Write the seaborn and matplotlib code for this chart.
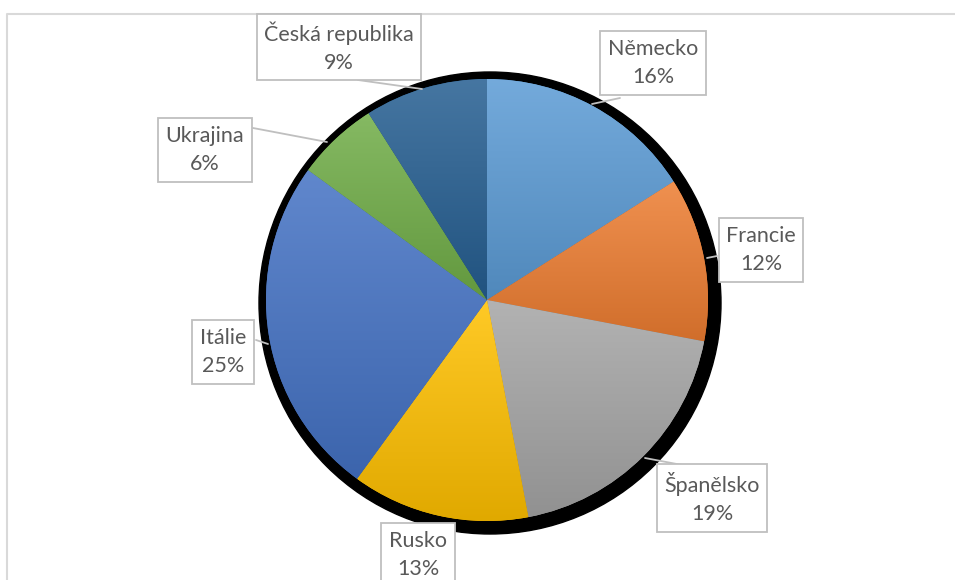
# -*- coding: utf-8 -*-
"""
Pie chart: share by country, Excel-like gradient slices, shadow and callout labels.
"""

import numpy as np
import seaborn as sns
import matplotlib.pyplot as plt
from matplotlib.colors import to_rgb
from matplotlib.patches import Circle

countries = ["Německo", "Francie", "Španělsko", "Rusko", "Itálie", "Ukrajina", "Česká republika"]
shares = [16, 12, 19, 13, 25, 6, 9]
base_colors = ["#5B9BD5", "#ED7D31", "#A5A5A5", "#FFC000", "#4472C4", "#70AD47", "#255E91"]

# label box centres (pixel coords, y from top) and leader line end points
label_pos = [(653, 63), (761, 250), (712, 498), (418, 555), (223, 352), (205, 150), (339, 47)]
leaders = [
    [(620, 98), (592, 104)],
    [(717, 256), (707, 258)],
    [(682, 465), (645, 458)],
    None,
    [(256, 340), (268, 344)],
    [(253, 128), (327, 142)],
    [(358, 80), (422, 89)],
]

W, H = 955, 580
CX, CY, R = 487, 300, 221


def shade(color, f):
    c = np.array(to_rgb(color))
    if f >= 0:
        return c + (1 - c) * f
    return c * (1 + f)


sns.set_theme(style="white")
plt.rcParams["font.family"] = ["Lato", "DejaVu Sans"]

fig = plt.figure(figsize=(W / 100, H / 100), dpi=100)
ax = fig.add_axes([0, 0, 1, 1])

# chart area border (top and left visible)
ax.plot([6.5, 6.5, W], [0, H - 13.5, H - 13.5], color="#d9d9d9", lw=1.5, zorder=1)

# shadow
ax.add_patch(Circle((CX + 3, H - CY - 3), R + 10, color="black", zorder=2))

wedges, _ = ax.pie(shares, colors=base_colors, startangle=90, counterclock=False,
                   center=(CX, H - CY), radius=R, frame=True,
                   wedgeprops=dict(linewidth=0))
ax.set_xlim(0, W)
ax.set_ylim(0, H)
ax.axis("off")

for w, col in zip(wedges, base_colors):
    w.set_zorder(3)
    bb = w.get_path().get_extents(w.get_transform() + ax.transData.inverted())
    top, bot = shade(col, 0.15), shade(col, -0.12)
    t = np.linspace(0, 1, 256)[:, None]
    grad = top[None, :] * (1 - t) + bot[None, :] * t
    im = ax.imshow(grad[:, None, :], extent=(bb.x0, bb.x1, bb.y0, bb.y1),
                   aspect="auto", origin="upper", zorder=4, interpolation="bilinear")
    im.set_clip_path(w)

for name, val, (lx, ly), ld in zip(countries, shares, label_pos, leaders):
    if ld is not None:
        ax.plot([p[0] for p in ld], [H - p[1] for p in ld], color="#bfbfbf", lw=1.3, zorder=5)
    ax.text(lx, H - ly, f"{name}\n{val}%", ha="center", va="center", fontsize=15.5,
            color="#595959", linespacing=1.5, zorder=6,
            bbox=dict(boxstyle="square,pad=0.35", fc="white", ec="#bfbfbf", lw=1.3))

fig.savefig("out.png", dpi=100)
plt.close()
